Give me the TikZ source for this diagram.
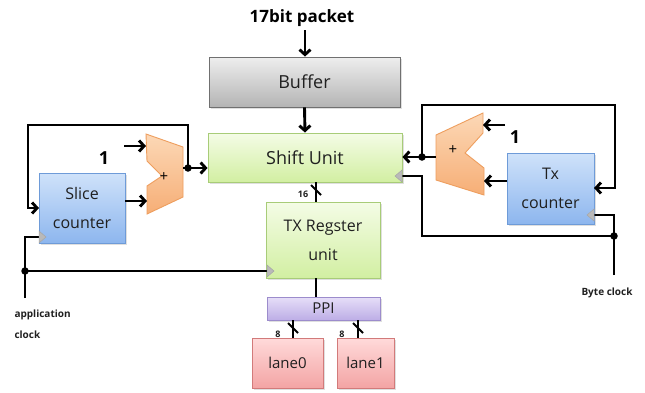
\documentclass[tikz,border=0pt]{standalone}
\usepackage{fontspec}
\setmainfont{Open Sans}
\usetikzlibrary{arrows.meta,shadows}
\definecolor{grnT}{HTML}{F4FCE6}
\definecolor{grnB}{HTML}{D2EFA2}
\definecolor{grnD}{HTML}{A8CC78}
\definecolor{bluT}{HTML}{CFE2FA}
\definecolor{bluB}{HTML}{8DB6EE}
\definecolor{bluD}{HTML}{6E9BD8}
\definecolor{orgT}{HTML}{FCD8B6}
\definecolor{orgB}{HTML}{F6AE76}
\definecolor{orgD}{HTML}{EE9E5E}
\definecolor{purT}{HTML}{E6DEF8}
\definecolor{purB}{HTML}{BDAEE6}
\definecolor{purD}{HTML}{9C8CCC}
\definecolor{redT}{HTML}{FFDADA}
\definecolor{redB}{HTML}{F3A4A4}
\definecolor{redD}{HTML}{D27A7A}
\definecolor{gryT}{HTML}{EEEEEE}
\definecolor{gryB}{HTML}{B4B4B4}
\definecolor{gryD}{HTML}{707070}
\definecolor{txt}{HTML}{202020}
\begin{document}
\begin{tikzpicture}[x=1pt,y=-1pt,
  box/.style={line width=0.9pt, text=txt, inner sep=0pt, align=center,
    drop shadow={shadow xshift=1.5pt, shadow yshift=-1.5pt, opacity=0.25}},
  grnbox/.style={box, draw=grnD, top color=grnT, bottom color=grnB},
  blubox/.style={box, draw=bluD, top color=bluT, bottom color=bluB},
  purbox/.style={box, draw=purD, top color=purT, bottom color=purB},
  redbox/.style={box, draw=redD, top color=redT, bottom color=redB},
  grybox/.style={box, draw=gryD, top color=gryT, bottom color=gryB},
  adder/.style={line width=0.9pt, draw=orgD, top color=orgT, bottom color=orgB},
  wire/.style={line width=2.9pt, black},
  arr/.style={wire, -{Straight Barb[length=5pt,width=11pt]}},
  dot/.style={circle, fill=black, inner sep=0pt, minimum size=7.5pt},
  clk/.style={fill=gray!55, draw=gray!70, line width=0.5pt},
  busmark/.style={line width=2pt, black},
  big/.style={font=\fontsize{18}{22}\selectfont},
  mid/.style={font=\fontsize{16}{29}\selectfont},
  sml/.style={font=\fontsize{15}{18}\selectfont},
  tiny/.style={font=\bfseries\fontsize{10}{21}\selectfont, text=txt},
  lbl/.style={font=\bfseries\fontsize{18}{20}\selectfont}
]
\useasboundingbox (0,0) rectangle (645,392);
\fill[white] (0,0) rectangle (645,392);

% ---------- boxes
\node[grybox, big, minimum width=191pt, minimum height=50pt] (buffer) at (304.5,82) {Buffer};
\node[grnbox, big, minimum width=194pt, minimum height=49pt] (shift) at (305,157.5) {Shift Unit};
\node[blubox, mid, minimum width=86pt, minimum height=70pt] (slice) at (82,208) {Slice\\counter};
\node[grnbox, mid, minimum width=114pt, minimum height=76pt] (txreg) at (323,240) {TX Regster\\unit};
\node[purbox, sml, minimum width=113pt, minimum height=23pt] (ppi) at (323.5,308.5) {PPI};
\node[redbox, sml, minimum width=71pt, minimum height=50pt] (lane0) at (287.5,363) {lane0};
\node[redbox, sml, minimum width=57pt, minimum height=50pt] (lane1) at (365.5,363) {lane1};
\node[blubox, mid, minimum width=87pt, minimum height=71pt] (txc) at (550.5,188.5) {Tx\\counter};

% ---------- adders
\draw[adder] (146,134) -- (183,147) -- (183,197) -- (147,214) -- (147,186) -- (162,176) -- (147,161) -- cycle;
\node[font=\fontsize{15}{15}\selectfont] (lplus) at (164,177) {+};
\draw[adder] (483,113) -- (436,135) -- (436,180) -- (484,195) -- (484,168) -- (465,153) -- (483,133) -- cycle;
\node[font=\fontsize{15}{15}\selectfont] (rplus) at (453,150) {+};

% ---------- labels
\node[font=\bfseries\fontsize{17}{20}\selectfont] (pkt) at (302,18) {17bit packet};
\node[lbl] (one1) at (104,158) {1};
\node[lbl] (one2) at (515,137) {1};
\node[tiny, anchor=west, align=left] (app) at (11,324) {application\\clock};
\node[tiny] (byte) at (607,293) {Byte clock};
\node[font=\bfseries\fontsize{9}{10}\selectfont, text=txt] (b16) at (303,194) {16};
\node[font=\bfseries\fontsize{9}{10}\selectfont, text=txt] (b8a) at (278,334) {8};
\node[font=\bfseries\fontsize{9}{10}\selectfont, text=txt] (b8b) at (342,334) {8};

% ---------- port coordinates
\coordinate (pktEnd) at (305,30);
\coordinate (l1s) at (124,146);
\coordinate (laA) at (146,146);
\coordinate (laB) at (147,201);
\coordinate (laO) at (183,168);
\coordinate (lfb) at (28,125);
\coordinate (slFb) at (39,208);
\coordinate (appEnd) at (25,298);
\coordinate (slClk) at (39,237);
\coordinate (txClkL) at (267,271);
\coordinate (r1s) at (505,125);
\coordinate (raA) at (483,125);
\coordinate (raB) at (484,181);
\coordinate (raO) at (436,157);
\coordinate (rfb) at (615,105);
\coordinate (txFb) at (594,188);
\coordinate (byteEnd) at (614,275);
\coordinate (txcClk) at (594,215);
\coordinate (shClk) at (402,176);
\coordinate (rloop) at (422,236);

\node[dot] (ldot) at (188,168) {};
\node[dot] (adot) at (25,271) {};
\node[dot] (rdot) at (422,157) {};
\node[dot] (bdot) at (614,236) {};

% ---------- connectors
\draw[arr] (pktEnd) -- (buffer.north -| pktEnd);
\draw[arr] (buffer.south) -- (shift.north);
\draw[arr] (l1s) -- (laA);
\draw[arr] (slice.east |- laB) -- (laB);
\draw[wire] (laO) -- (ldot.center);
\draw[arr] (ldot.center) -- (shift.west |- laO);
\draw[arr] (ldot.center) |- (lfb) |- (slFb);
\draw[wire] (appEnd) -- (adot.center) |- (slClk);
\draw[wire] (adot.center) -- (txClkL);

\draw[wire] (txreg.north -| 316,0) -- (shift.south -| 316,0);
\draw[busmark] (311,185) -- (321,195);
\draw[wire] (txreg.south -| 316,0) -- (ppi.north -| 316,0);
\draw[wire] (ppi.south -| 293,0) -- (lane0.north -| 293,0);
\draw[busmark] (288,323) -- (298,333);
\draw[wire] (ppi.south -| 358,0) -- (lane1.north -| 358,0);
\draw[busmark] (353,323) -- (363,333);

\draw[arr] (r1s) -- (raA);
\draw[arr] (txc.west |- raB) -- (raB);
\draw[wire] (raO) -- (rdot.center);
\draw[arr] (rdot.center) -- (shift.east |- raO);
\draw[arr] (rdot.center) |- (rfb) |- (txFb);
\draw[wire] (byteEnd) -- (bdot.center) |- (txcClk);
\draw[wire] (bdot.center) -- (rloop) |- (shClk);

% ---------- clock triangles
\draw[clk] (39,231) -- (46,237) -- (39,243) -- cycle;
\draw[clk] (267,265) -- (274,271) -- (267,277) -- cycle;
\draw[clk] (594,209) -- (587,215) -- (594,221) -- cycle;
\draw[clk] (402,170) -- (395,176) -- (402,182) -- cycle;
\end{tikzpicture}
\end{document}
